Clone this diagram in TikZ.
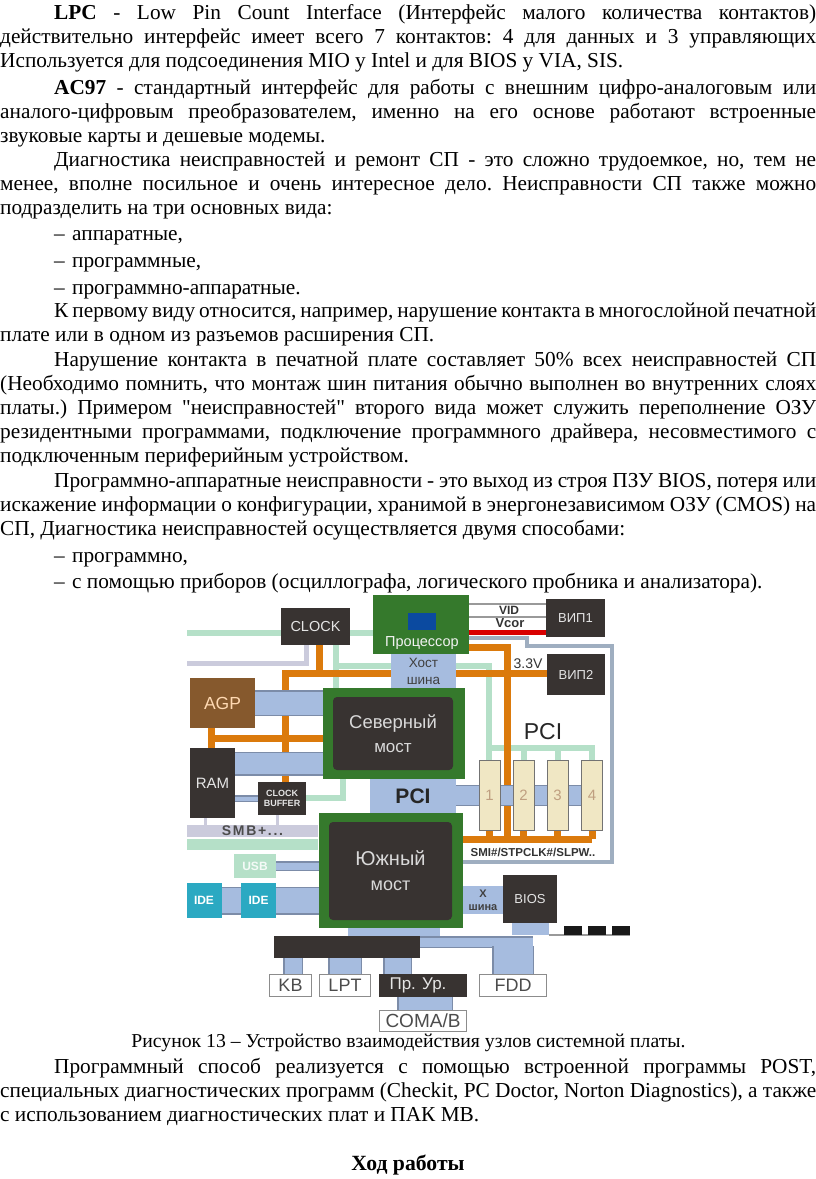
\documentclass[tikz,border=0pt]{standalone}
\usepackage{fontspec}
\setmainfont{Liberation Serif}
\setsansfont{Liberation Sans}
\newfontfamily\rawfont{Liberation Serif}
\usetikzlibrary{positioning, backgrounds, calc}
\definecolor{boardgreen}{HTML}{35792C}
\definecolor{chipdark}{HTML}{383331}
\definecolor{busfill}{HTML}{A6BCDF}
\definecolor{busedge}{HTML}{7C8CA8}
\definecolor{wireorange}{HTML}{DB7A0C}
\definecolor{wiremint}{HTML}{B5E0C8}
\definecolor{wiregrey}{HTML}{CBCBDC}
\definecolor{wireouter}{HTML}{9FAEC0}
\definecolor{slotfill}{HTML}{F0E7C4}
\definecolor{idefill}{HTML}{2BA9C2}
\definecolor{diefill}{HTML}{0B4AA0}
\newcommand{\bodyfont}{\fontsize{21.3}{24}\selectfont\frenchspacing}
\newcommand{\ind}{\hspace*{54pt}}
\newcommand{\lst}{\ind\strut\makebox[18pt][l]{–}}
\tikzset{%
	para/.style={anchor=north west, inner sep=0pt, text width=816pt, align=justify, font=\bodyfont},
	capt/.style={inner sep=0pt, font=\fontsize{19.7}{24}\selectfont},
	chip/.style={fill=chipdark, text=black!10, inner sep=0pt, align=center, font=\sffamily\fontsize{14.5}{17}\selectfont},
	board/.style={fill=boardgreen, inner sep=0pt},
	core/.style={fill=chipdark, rounded corners=4pt, text=black!15, inner sep=0pt, align=center, font=\sffamily\fontsize{18.5}{22}\selectfont},
	busbox/.style={fill=busfill, inner sep=0pt, align=center, text=black!75, font=\sffamily\fontsize{13.5}{17}\selectfont},
	port/.style={draw=black!45, line width=1.5pt, fill=white, inner sep=0pt, text=black!70, font=\sffamily\fontsize{18}{20}\selectfont},
	slot/.style={draw=black!55, line width=1pt, fill=slotfill, inner sep=0pt, text=orange!50!black!50, font=\sffamily\fontsize{15}{18}\selectfont, minimum width=21pt, minimum height=70pt},
	ide/.style={fill=idefill, text=white, inner sep=0pt, font=\sffamily\bfseries\fontsize{12}{14}\selectfont, minimum width=35pt, minimum height=35pt},
	tag/.style={inner sep=0pt, text=black!80, font=\sffamily\bfseries\fontsize{12}{14}\selectfont},
	orangebus/.style={draw=wireorange, line width=7pt},
	mintbus/.style={draw=wiremint, line width=6pt},
	greybus/.style={draw=wiregrey, line width=5pt},
	thinbus/.style={draw=black!40, line width=1.3pt},
	redbus/.style={draw=red!85!black, line width=5pt},
	outerbus/.style={draw=wireouter, line width=3.5pt},
	bluebus/.style={draw=busedge, double=busfill, line width=1.5pt}
}
\begin{document}
\begin{tikzpicture}[x=1pt, y=-1pt]
	\useasboundingbox (0,0) rectangle (816,1179);
	% text above the figure
	\node[para] (p1) at (0,2) {\ind\strut\textbf{LPC} - Low Pin Count Interface (Интерфейс малого количества контактов)\linebreak
		действительно интерфейс имеет всего 7 контактов: 4 для данных и 3 управляющих\linebreak
		Используется для подсоединения MIO у Intel и для BIOS у VIA, SIS.};
	\node[para] (p2) at (0,77) {\ind\strut\textbf{AC97} - стандартный интерфейс для работы с внешним цифро-аналоговым или\linebreak
		аналого-цифровым преобразователем, именно на его основе работают встроенные\linebreak
		звуковые карты и дешевые модемы.};
	\node[para] (p3) at (0,149) {\ind\strut Диагностика неисправностей и ремонт СП - это сложно трудоемкое, но, тем не\linebreak
		менее, вполне посильное и очень интересное дело. Неисправности СП также можно\linebreak
		подразделить на три основных вида:};
	\node[para] (d1) at (0,223) {\lst аппаратные,};
	\node[para] (d2) at (0,250) {\lst программные,};
	\node[para] (d3) at (0,277) {\lst программно-аппаратные.};
	\node[para] (p4) at (0,300) {\ind\strut К первому виду относится, например, нарушение контакта в многослойной печатной\linebreak
		плате или в одном из разъемов расширения СП.};
	\node[para] (p5) at (0,349) {\ind\strut Нарушение контакта в печатной плате составляет 50\% всех неисправностей СП\linebreak
		(Необходимо помнить, что монтаж шин питания обычно выполнен во внутренних слоях\linebreak
		платы.) Примером {\rawfont"}неисправностей{\rawfont"} второго вида может служить переполнение ОЗУ\linebreak
		резидентными программами, подключение программного драйвера, несовместимого с\linebreak
		подключенным периферийным устройством.};
	\node[para] (p6) at (0,470) {\ind\strut Программно-аппаратные неисправности - это выход из строя ПЗУ BIOS, потеря или\linebreak
		искажение информации о конфигурации, хранимой в энергонезависимом ОЗУ (CMOS) на\linebreak
		СП, Диагностика неисправностей осуществляется двумя способами:};
	\node[para] (d4) at (0,545) {\lst программно,};
	\node[para] (d5) at (0,571) {\lst с помощью приборов (осциллографа, логического пробника и анализатора).};

	% chips and boxes of the figure
	\node[chip, minimum width=69pt, minimum height=37pt] (clock) at (315.5,626.5) {CLOCK};
	\node[board, minimum width=96pt, minimum height=59pt] (cpu) at (421,624.5) {};
	\node[fill=diefill, inner sep=0pt, minimum width=28pt, minimum height=17pt] (die) at (422,621.5) {};
	\node[inner sep=0pt, text=black!5, font=\sffamily\fontsize{14.5}{16}\selectfont] (cpulabel) at (422,643) {Процессор};
	\node[busbox, minimum width=65pt, minimum height=34pt] (host) at (423.5,671) {Хост\\шина};
	\node[chip, fill=brown!70!black, text=orange!30!white, minimum width=65pt, minimum height=50pt, font=\sffamily\fontsize{17.5}{20}\selectfont] (agp) at (222.5,703) {AGP};
	\node[chip, minimum width=45pt, minimum height=70pt, font=\sffamily\fontsize{15}{18}\selectfont] (ram) at (212.5,783) {RAM};
	\node[chip, minimum width=48pt, minimum height=33pt, font=\sffamily\bfseries\fontsize{9}{10}\selectfont] (buffer) at (282,798.5) {CLOCK\\BUFFER};
	\node[board, minimum width=142pt, minimum height=91pt] (north) at (394,733.5) {};
	\node[core, minimum width=120pt, minimum height=73pt] (northcore) at (393,733.5) {Северный\\[2pt]{\fontsize{17}{19}\selectfont мост}};
	\node[busbox, minimum width=86pt, minimum height=35pt, text=black!85, font=\sffamily\bfseries\fontsize{21}{23}\selectfont] (pci) at (413,796) {PCI};
	\node[board, minimum width=144pt, minimum height=115pt] (south) at (391,870.5) {};
	\node[core, minimum width=123pt, minimum height=98pt, font=\sffamily\fontsize{20}{23}\selectfont] (southcore) at (390.5,871) {Южный\\[2pt]{\fontsize{18}{20}\selectfont мост}};
	\node[fill=wiregrey, inner sep=0pt, minimum width=131pt, minimum height=12pt, text=black!70, text depth=0pt, font=\sffamily\bfseries\fontsize{14}{14}\selectfont\addfontfeature{LetterSpace=12}] (smb) at (252.5,831) {SMB+...};
	\node[fill=wiremint, inner sep=0pt, minimum width=131pt, minimum height=11pt] (mintbar) at (252.5,844.5) {};
	\node[fill=wiremint, text=white!85!wiremint, inner sep=0pt, minimum width=42pt, minimum height=24pt, font=\sffamily\bfseries\fontsize{12}{14}\selectfont] (usb) at (255,866) {USB};
	\node[ide] (ideone) at (204,900.5) {IDE};
	\node[ide] (idetwo) at (258.5,900.5) {IDE};
	\node[busbox, minimum width=40pt, minimum height=28pt, font=\sffamily\bfseries\fontsize{11}{13}\selectfont] (xbus) at (483,900) {Х\\шина};
	\node[chip, minimum width=54pt, minimum height=48pt, font=\sffamily\fontsize{13}{15}\selectfont] (bios) at (530,899) {BIOS};
	\node[fill=chipdark, inner sep=0pt, minimum width=146pt, minimum height=22pt] (lpcbar) at (347,947) {};
	\node[port, minimum width=42pt, minimum height=22pt] (kb) at (290.5,985.5) {KB};
	\node[port, minimum width=51pt, minimum height=22pt] (lpt) at (345,985.5) {LPT};
	\node[chip, minimum width=88pt, minimum height=23pt, font=\sffamily\fontsize{17}{19}\selectfont] (prur) at (423,985.5) {Пр. Ур.\hspace*{10pt}};
	\node[port, minimum width=87pt, minimum height=21pt, font=\sffamily\fontsize{19}{20}\selectfont] (coma) at (423,1021) {COMA/B};
	\node[port, minimum width=67pt, minimum height=22pt] (fdd) at (513,985.5) {FDD};
	\node[chip, minimum width=59pt, minimum height=38pt, font=\sffamily\fontsize{13}{15}\selectfont] (vipone) at (575.5,618) {ВИП1};
	\node[chip, minimum width=58pt, minimum height=41pt, font=\sffamily\fontsize{13}{15}\selectfont] (viptwo) at (576,674.5) {ВИП2};
	\node[slot] (slotone) at (489.5,795) {1};
	\node[slot] (slottwo) at (523.5,795) {2};
	\node[slot] (slotthree) at (557.5,795) {3};
	\node[slot] (slotfour) at (592,795) {4};
	\node[fill=black!90, inner sep=0pt, minimum width=18pt, minimum height=9pt] (chipa) at (573,930.5) {};
	\node[fill=black!90, inner sep=0pt, minimum width=18pt, minimum height=9pt] (chipb) at (597,930.5) {};
	\node[fill=black!90, inner sep=0pt, minimum width=18pt, minimum height=9pt] (chipc) at (621,930.5) {};
	\node[tag] (vid) at (509,610) {VID};
	\node[tag, font=\sffamily\bfseries\fontsize{13}{14}\selectfont] (vcor) at (510,623) {Vcor};
	\node[tag, font=\sffamily\fontsize{14}{15}\selectfont] (volt) at (528,664) {3.3V};
	\node[inner sep=0pt, text=black!85, font=\sffamily\fontsize{23}{25}\selectfont] (pcilabel) at (543,732) {PCI};
	\node[tag, font=\sffamily\bfseries\fontsize{11.5}{13}\selectfont] (sleep) at (533,852) {SMI\#/STPCLK\#/SLPW..};

	% named points of the buses
	\coordinate (mintleft) at (187,633);
	\coordinate (greyleft) at (187,663);
	\coordinate (greyturn) at (306,663);
	\coordinate (orangeleft) at (285,673);
	\coordinate (orangetop) at (507,647);
	\coordinate (orangedown) at (507,839);
	\coordinate (orangestart) at (462,839);
	\coordinate (mintturn) at (489,666);
	\coordinate (mintrow) at (489,748);
	\coordinate (outera) at (527,638);
	\coordinate (outerb) at (527,646);
	\coordinate (outerc) at (612,646);
	\coordinate (outerd) at (612,862);
	\coordinate (rambus) at (235,763.5);
	\coordinate (pcirun) at (456,795);
	\coordinate (mintbuf) at (343,798);
	\coordinate (idebus) at (221,900.5);
	\coordinate (usbbus) at (276,866);
	\coordinate (lowrun) at (420,942);
	\coordinate (chipline) at (549,935);

	\begin{scope}[on background layer]
		% thin wires first
		\draw[thinbus] (469,604) -- (vipone.west |- 0,604);
		\draw[thinbus] (469,617) -- (vipone.west |- 0,617);
		\draw[redbus] (469,632) -- (vipone.west |- 0,632);
		\draw[outerbus] (469,638) -- (outera) -- (outerb) -- (outerc) -- (outerd) -- (south.east |- outerd);
		\draw[greybus] (clock.south -| greyturn) -- (greyturn) -- (greyleft);
		\draw[greybus, line width=3pt] (ram.south -| 205,0) -- (smb.north -| 205,0);
		\draw[greybus, line width=3pt] (buffer.south -| 277,0) -- (smb.north -| 277,0);
		% mint wires
		\draw[mintbus] (mintleft) -- (cpu.west |- mintleft);
		\draw[mintbus] (clock.south -| 336,0) -- (north.north -| 336,0);
		\draw[mintbus] (336,666) -- (host.west |- 0,666);
		\draw[mintbus] (host.east |- mintturn) -- (mintturn) -- (slotone.north -| mintturn);
		\draw[mintbus] (mintrow) -- (mintrow -| slotfour) -- (slotfour.north);
		\draw[mintbus] (mintrow -| slottwo) -- (slottwo.north);
		\draw[mintbus] (mintrow -| slotthree) -- (slotthree.north);
		\draw[mintbus] (north.south -| mintbuf) -- (mintbuf) -- (mintbuf -| buffer.east);
		% orange wires
		\draw[orangebus] (clock.south -| 319,0) -- (319,673);
		\draw[orangebus] (host.west |- orangeleft) -- (orangeleft) -- (orangeleft |- buffer.north);
		\draw[orangebus] (host.east |- 0,673) -- (viptwo.west |- 0,673);
		\draw[orangebus] (cpu.east |- orangetop) -- (orangetop) -- (orangedown);
		\draw[orangebus] (orangestart) -- (orangestart -| slotfour);
		\draw[orangebus] (slotone.south) -- (slotone.south |- orangestart);
		\draw[orangebus] (slottwo.south) -- (slottwo.south |- orangestart);
		\draw[orangebus] (slotthree.south) -- (slotthree.south |- orangestart);
		\draw[orangebus] (slotfour.south) -- (slotfour.south |- orangestart);
		\draw[orangebus] (agp.south -| 211,0) -- (ram.north -| 211,0);
		\draw[orangebus] (211,738) -- (north.west |- 0,738);
		% blue buses
		\draw[bluebus, double distance=23pt] (agp.east) -- (agp.east -| north.west);
		\draw[bluebus, double distance=21pt] (rambus) -- (rambus -| north.west);
		\draw[bluebus, double distance=4pt] (ram.east |- buffer) -- (buffer.west);
		\draw[draw=busedge, double=busfill, line width=1pt, double distance=19pt] (pcirun) -- (pcirun -| slotfour);
		\draw[bluebus, double distance=7pt] (usbbus) -- (usbbus -| south.west);
		\draw[bluebus, double distance=25pt] (idebus) -- (idebus -| south.west);
		\fill[busfill] (348,928) rectangle (440,936);
		\draw[bluebus, double distance=9pt] (lowrun) -- (lowrun -| fdd.north) -- ++(20,0);
		\draw[bluebus, double distance=39pt] (fdd.north |- 0,946) -- (fdd.north);
		\fill[busfill] (494,944) rectangle (532,950);
		\fill[busfill] (512,923) rectangle (549,935);
		\draw[bluebus, double distance=17pt] (kb.north -| 293,0) -- (lpcbar.south -| 293,0);
		\draw[bluebus, double distance=31pt] (lpt.north) -- (lpcbar.south -| lpt.north);
		\draw[bluebus, double distance=26pt] (prur.north -| 397.5,0) -- (lpcbar.south -| 397.5,0);
		\draw[bluebus, double distance=53pt] (coma.north -| 425,0) -- (prur.south -| 425,0);
		\draw[thinbus] (chipline) -- (chipline -| chipc.east);
	\end{scope}

	% text below the figure
	\node[capt] (caption) at (408.5,1043) {\strut Рисунок 13 – Устройство взаимодействия узлов системной платы.};
	\node[para] (p7) at (0,1056) {\ind\strut Программный способ реализуется с помощью встроенной программы POST,\linebreak
		специальных диагностических программ (Checkit, PC Doctor, Norton Diagnostics), а также\linebreak
		с использованием диагностических плат и ПАК МВ.};
	\node[capt, font=\fontsize{21.7}{24}\selectfont\bfseries] (heading) at (408,1166) {\strut Ход работы};
\end{tikzpicture}
\end{document}
